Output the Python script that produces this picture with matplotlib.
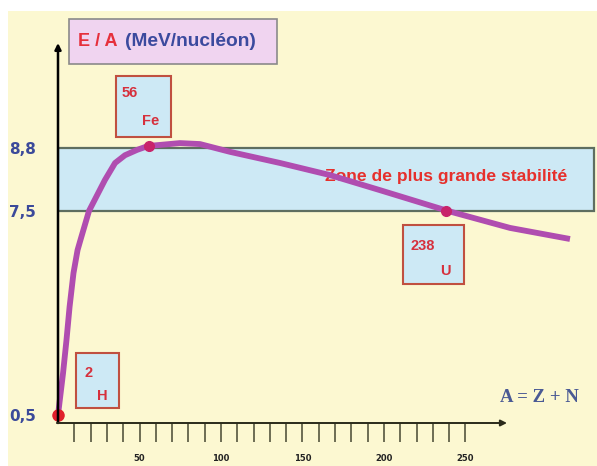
import numpy as np
import matplotlib.pyplot as plt
from matplotlib.patches import Rectangle
from matplotlib.transforms import Affine2D
from matplotlib.ticker import NullLocator

# binding energy per nucleon curve (schematic)
mass = [0, 3.1, 5.2, 7.1, 9.5, 12.0, 13.8, 19.0, 28.8, 35, 41.1, 48.5, 55.2, 74.8, 87.1,
        105.5, 136.2, 166.9, 197.5, 239.3, 277.3, 314.1]
energy = [0.5, 1.94, 3.07, 4.21, 5.37, 6.16, 6.51, 7.5, 8.14, 8.49, 8.65, 8.76, 8.84, 8.90, 8.88,
          8.72, 8.49, 8.24, 7.93, 7.5, 6.92, 6.54]

nuclei = ['H', 'Fe', 'U']
nuclei_A = [0, 56, 238]
nuclei_E = [0.5, 8.84, 7.5]
nuclei_num = ['2', '56', '238']

band = [7.5, 8.8]
ytick_vals = [0.5, 7.5, 8.8]
ytick_labels = ['0,5', '7,5', '8,8']
xtick_major = [50, 100, 150, 200, 250]
xtick_minor = list(range(10, 251, 10))


# the picture's vertical scale is not linear: two linear pieces
def fwd(e):
    e = np.asarray(e, dtype=float)
    return np.where(e < 7.5, (e - 0.5) * 29.14, 204 + (e - 7.5) * 48.5)


def inv(p):
    p = np.asarray(p, dtype=float)
    return np.where(p < 204, p / 29.14 + 0.5, 7.5 + (p - 204) / 48.5)


W, H = 597, 466
fig = plt.figure(figsize=(W / 100, H / 100), dpi=100)
fig.patch.set_facecolor('white')
pix = Affine2D().scale(1 / W, -1 / H).translate(0, 1) + fig.transFigure

fig.add_artist(Rectangle((8, 11), W - 8, H - 11, transform=pix, fc='#fcf8d1', ec='none', zorder=-1))

ax = fig.add_axes([58 / W, (H - 423) / H, (W - 58) / W, 423 / H])
ax.patch.set_visible(False)
for s in ax.spines.values():
    s.set_visible(False)
ax.set_yscale('function', functions=(fwd, inv))
ax.set_xlim(0, (W - 58) / 1.63)
ax.set_ylim(float(inv(-8)), float(inv(415)))

# zone of greatest stability
ax.add_patch(Rectangle((0, band[0]), 329, band[1] - band[0], fc='#cde9f5', ec='#5e6e60', lw=1.6, zorder=1))
ax.text(164, 8.22, 'Zone de plus grande stabilité', color='#e6302c', fontsize=12.6,
        fontweight='bold', family='Liberation Sans', va='center', zorder=3)

ax.plot(mass, energy, color='#b04db0', lw=4.2, solid_capstyle='butt', solid_joinstyle='round',
        clip_on=False, zorder=3)
ax.plot(nuclei_A[0], nuclei_E[0], 'o', color='#e0202a', ms=8, clip_on=False, zorder=4)
ax.plot(nuclei_A[1:], nuclei_E[1:], 'o', color='#c8246a', ms=7, clip_on=False, zorder=4)

# axes as arrows
arrow = dict(arrowstyle='-|>', lw=1.8, mutation_scale=9, shrinkA=0, shrinkB=0)
ax.annotate('', xy=(0, (423 - 43) / 423), xytext=(0, 0), xycoords='axes fraction',
            arrowprops=dict(arrow, color='black'), zorder=5)
ax.annotate('', xy=((507 - 58) / (W - 58), 0), xytext=(-0.002, 0), xycoords='axes fraction',
            arrowprops=dict(arrow, color='#2a2a1a', lw=1.4), zorder=5)

ax.set_xticks(xtick_major)
ax.set_xticks(xtick_minor, minor=True)
ax.tick_params(axis='x', which='both', direction='out', length=14, width=1.2, color='#55553e',
               labelsize=6, pad=8, labelcolor='#222222')
for lab in ax.get_xticklabels():
    lab.set_fontweight('bold')

ax.set_yticks(ytick_vals, ytick_labels)
ax.yaxis.set_minor_locator(NullLocator())
ax.tick_params(axis='y', length=0, pad=16, labelsize=11, labelcolor='#3b4a9a')
for lab in ax.get_yticklabels():
    lab.set_fontweight('bold')

# title box
fig.add_artist(Rectangle((69, 19), 208, 45, transform=pix, fc='#f0d4f0', ec='#8a8a8a', lw=1.2, zorder=5))
fig.text(78 / W, 1 - 42 / H, 'E / A', color='#e6303c', fontsize=13, fontweight='bold',
         family='Liberation Sans', va='center', zorder=6)
fig.text(125 / W, 1 - 42 / H, '(MeV/nucléon)', color='#3b4a9e', fontsize=13.8, fontweight='bold',
         family='Liberation Sans', va='center', zorder=6)

# nucleus boxes: (left, top, width, height) in pixels, number and symbol positions
boxes = [(76, 353, 43, 55, (85, 373), (97, 396)),
         (116, 76, 55, 61, (122, 93), (142, 121)),
         (403, 225, 61, 59, (410, 246), (440, 271))]
for sym, num, (bx, by, bw, bh, npos, spos) in zip(nuclei, nuclei_num, boxes):
    fig.add_artist(Rectangle((bx, by), bw, bh, transform=pix, fc='#cde9f5', ec='#c05040', lw=1.5, zorder=5))
    fig.text(npos[0] / W, 1 - npos[1] / H, num, color='#d6303c', fontsize=10.5, fontweight='bold',
             family='Liberation Sans', va='center', zorder=6)
    fig.text(spos[0] / W, 1 - spos[1] / H, sym, color='#d6303c', fontsize=10.5, fontweight='bold',
             family='Liberation Sans', va='center', zorder=6)

fig.text(500 / W, 1 - 397 / H, 'A = Z + N', color='#4a5a94', fontsize=13.5, fontweight='bold',
         family='Liberation Serif', va='center', zorder=6)

fig.savefig('out.png', dpi=100)
